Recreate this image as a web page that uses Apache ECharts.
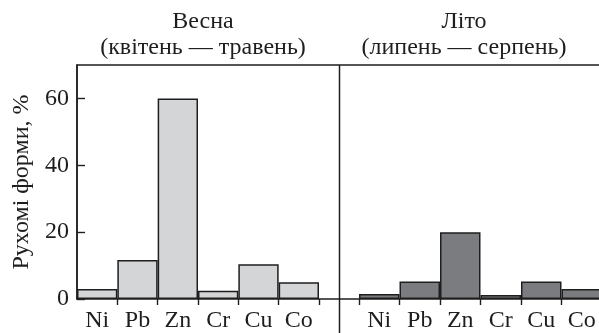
<!DOCTYPE html>
<html>
<head>
<meta charset="utf-8">
<script src="https://cdn.jsdelivr.net/npm/echarts@6/dist/echarts.min.js"></script>
<style>
  html, body { margin: 0; padding: 0; background: #fff; }
  #show { width: 599px; height: 333px; }
</style>
</head>
<body>
<div id="show"></div>
<script>
var myChart = echarts.init(document.getElementById("show"));

// елементи та частка рухомих форм, %
var elements = ['Ni', 'Pb', 'Zn', 'Cr', 'Cu', 'Co'];
var spring = [3, 11.7, 60, 2.5, 10.4, 5];
var summer = [1.5, 5.2, 20, 1.2, 5.2, 3];
var titles = ['Весна\n(квітень — травень)', 'Літо\n(липень — серпень)'];
var yName = 'Рухомі форми, %';

var font = '"Liberation Serif", "DejaVu Serif", serif';
var ink = '#1e1e1e';

var labelStyle = { fontFamily: font, fontSize: 24, color: ink };

function xAxisFor(idx, skipFirst) {
    return {
        type: 'category',
        gridIndex: idx,
        data: elements,
        axisLine: { show: false },
        axisTick: {
            show: true,
            length: 6,
            lineStyle: { color: ink, width: 1.4 },
            interval: function (i) { return !(skipFirst && i === 0); }
        },
        axisLabel: Object.assign({ margin: 10 }, labelStyle)
    };
}

var titleStyle = { fontFamily: font, fontSize: 24, fontWeight: 'normal', color: ink, lineHeight: 26, align: 'center' };

myChart.setOption({
    animation: false,
    title: [
        { text: titles[0], left: 198, top: 4, textAlign: 'center', textStyle: titleStyle },
        { text: titles[1], left: 459, top: 4, textAlign: 'center', textStyle: titleStyle }
    ],
    grid: [
        { left: 77, top: 65, width: 242, height: 234, outerBoundsMode: 'none' },
        { left: 359, top: 65, width: 243, height: 234, outerBoundsMode: 'none' },
        // рамка
        { left: 77, top: 65, right: -12, height: 234, outerBoundsMode: 'none',
          show: true, borderColor: ink, borderWidth: 1.5, backgroundColor: 'transparent' }
    ],
    xAxis: [
        xAxisFor(0, true),
        xAxisFor(1, false),
        { type: 'value', gridIndex: 2, show: false }
    ],
    yAxis: [
        {
            type: 'value', gridIndex: 0, min: 0, max: 70, interval: 20,
            name: yName, nameLocation: 'middle', nameGap: 43, nameRotate: 90,
            nameTextStyle: labelStyle,
            axisLine: { show: true, lineStyle: { color: ink, width: 1.5 } },
            axisTick: { show: true, inside: true, length: 8, lineStyle: { color: ink, width: 1.4 } },
            axisLabel: Object.assign({ margin: 8, showMaxLabel: false }, labelStyle),
            splitLine: { show: false }
        },
        {
            type: 'value', gridIndex: 1, min: 0, max: 70, interval: 20,
            show: false, splitLine: { show: false }
        },
        { type: 'value', gridIndex: 2, show: false }
    ],
    graphic: [
        {
            type: 'line', z: 10,
            shape: { x1: 339.5, y1: 65, x2: 339.5, y2: 333 },
            style: { stroke: ink, lineWidth: 1.5 }
        }
    ],
    series: [
        {
            type: 'bar', xAxisIndex: 0, yAxisIndex: 0, data: spring,
            barCategoryGap: '0%',
            itemStyle: { color: '#d4d5d7', borderColor: ink, borderWidth: 1.5 }
        },
        {
            type: 'bar', xAxisIndex: 1, yAxisIndex: 1, data: summer,
            barCategoryGap: '0%',
            itemStyle: { color: '#7b7c7f', borderColor: ink, borderWidth: 1.5 }
        }
    ]
});
</script>
</body>
</html>
